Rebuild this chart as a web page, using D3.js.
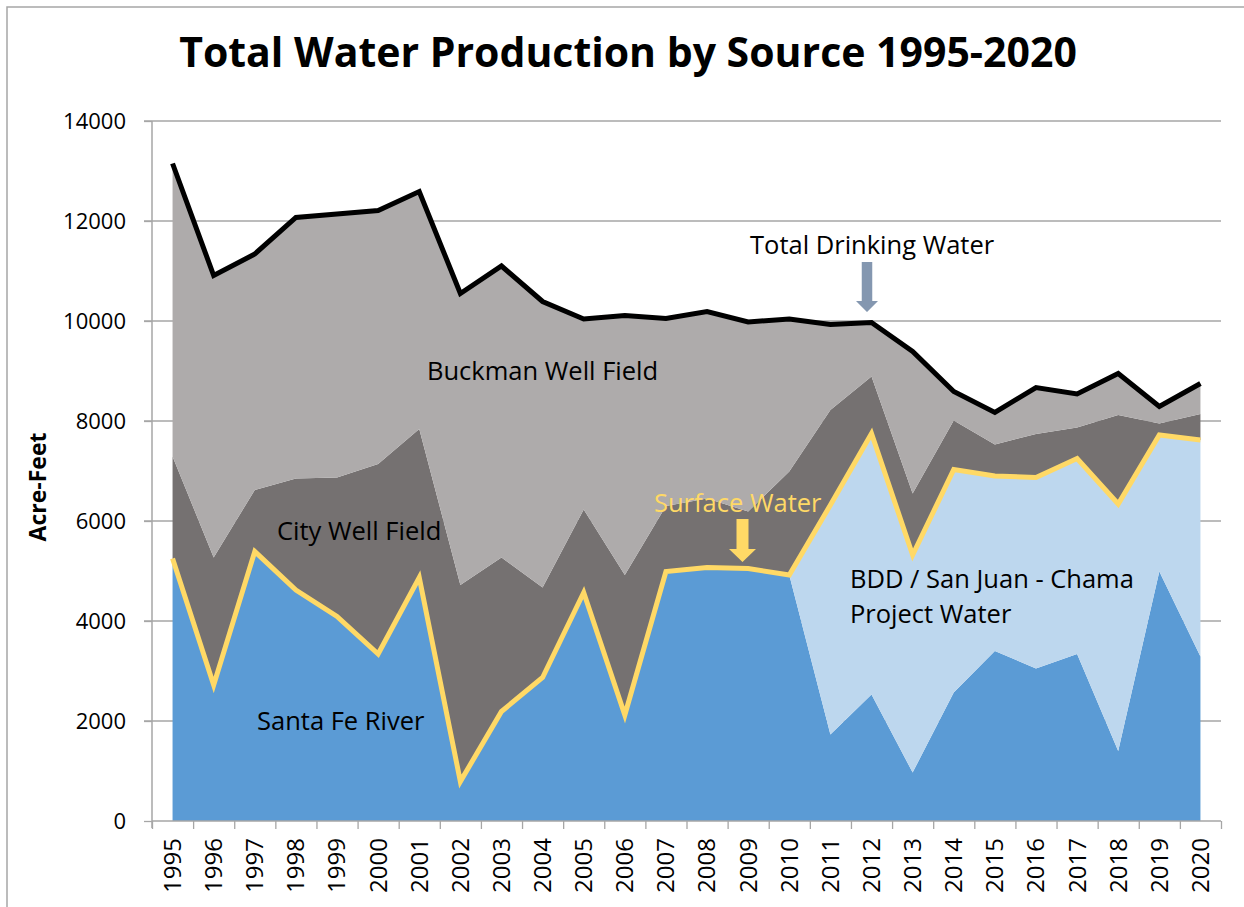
<!DOCTYPE html>
<html>
<head>
<meta charset="utf-8">
<script src="https://cdn.jsdelivr.net/npm/d3@7"></script>
<style>
  body { margin: 0; background: #fff; }
  text { font-family: "Open Sans", "Noto Sans", sans-serif; }
</style>
</head>
<body>
<div id="chart"></div>
<script>
// chart data (acre-feet)
const years = [1995,1996,1997,1998,1999,2000,2001,2002,2003,2004,2005,2006,2007,
               2008,2009,2010,2011,2012,2013,2014,2015,2016,2017,2018,2019,2020];
const santaFe = [5250,2720,5390,4620,4090,3340,4870,790,2190,2870,4570,2120,4990,
                 5070,5050,4920,1730,2530,970,2570,3400,3050,3340,1400,4990,3290];
const bdd = [0,0,0,0,0,0,0,0,0,0,0,0,0,0,0,0,4590,5220,4350,4460,3500,3820,3910,4940,2730,4330];
const cityWell = [2040,2550,1230,2230,2780,3800,2970,3930,3080,1800,1660,2800,1310,
                  1380,1140,2070,1900,1140,1230,980,630,870,620,1780,230,520];
const buckman = [5860,5640,4720,5220,5270,5070,4750,5830,5830,5720,3810,5190,3750,
                 3740,3790,3050,1710,1080,2840,580,640,930,670,830,340,610];
const yTicks = [0,2000,4000,6000,8000,10000,12000,14000];

const width = 1244, height = 907;
const margin = { top: 121, right: 23, bottom: 86, left: 152 };

const rows = years.map((y, i) => ({
  year: y, santaFe: santaFe[i], bdd: bdd[i], city: cityWell[i], buckman: buckman[i]
}));

const svg = d3.select("#chart").append("svg")
  .attr("width", width).attr("height", height);

// outer chart border
svg.append("rect")
  .attr("x", 7).attr("y", 7).attr("width", width + 20).attr("height", height + 20)
  .attr("fill", "none").attr("stroke", "#a6a6a6").attr("stroke-width", 1.5);

const x = d3.scaleBand().domain(years)
  .range([margin.left, width - margin.right]);
const cx = d => x(d) + x.bandwidth() / 2;
const y = d3.scaleLinear().domain([0, 14000])
  .range([height - margin.bottom, margin.top]);

// gridlines
svg.append("g").selectAll("line").data(yTicks.slice(1)).join("line")
  .attr("x1", margin.left - 8).attr("x2", width - margin.right)
  .attr("y1", d => y(d)).attr("y2", d => y(d))
  .attr("stroke", "#a6a6a6").attr("stroke-width", 1.3);

// stacked areas
const keys = ["santaFe", "bdd", "city", "buckman"];
const colors = { santaFe: "#5b9bd5", bdd: "#bdd7ee", city: "#757171", buckman: "#aeabab" };
const series = d3.stack().keys(keys)(rows);

const area = d3.area()
  .x(d => cx(d.data.year))
  .y0(d => y(d[0]))
  .y1(d => y(d[1]));

svg.append("g").selectAll("path").data(series).join("path")
  .attr("fill", d => colors[d.key])
  .attr("d", area);

// axes
const yAxis = d3.axisLeft(y).tickValues(yTicks).tickSize(8).tickPadding(18)
  .tickFormat(d3.format("d"));
const gy = svg.append("g")
  .attr("transform", `translate(${margin.left},0)`)
  .call(yAxis);
gy.select(".domain").remove();
gy.selectAll(".tick line").attr("stroke", "#a6a6a6").attr("stroke-width", 1.3);
gy.selectAll(".tick text").attr("font-size", 22).attr("fill", "#000");
svg.append("line")
  .attr("x1", margin.left).attr("x2", margin.left)
  .attr("y1", margin.top).attr("y2", height - margin.bottom + 7)
  .attr("stroke", "#a6a6a6").attr("stroke-width", 1.5);

// x axis: ticks at band edges, labels centred in bands
const edge = d3.scaleLinear().domain([0, years.length])
  .range([margin.left, width - margin.right]);
const gxTicks = svg.append("g")
  .attr("transform", `translate(0,${height - margin.bottom})`)
  .call(d3.axisBottom(edge).tickValues(d3.range(years.length + 1))
        .tickSize(8).tickFormat(""));
gxTicks.select(".domain").remove();
gxTicks.selectAll(".tick line").attr("stroke", "#a6a6a6").attr("stroke-width", 1.3);
svg.append("line")
  .attr("x1", margin.left).attr("x2", width - margin.right)
  .attr("y1", y(0)).attr("y2", y(0))
  .attr("stroke", "#a6a6a6").attr("stroke-width", 1.5);

const gx = svg.append("g")
  .attr("transform", `translate(0,${height - margin.bottom})`)
  .call(d3.axisBottom(x).tickSize(0).tickFormat(d3.format("d")));
gx.select(".domain").remove();
gx.selectAll(".tick text")
  .attr("font-size", 24).attr("fill", "#000")
  .attr("transform", "rotate(-90)")
  .attr("text-anchor", "end")
  .attr("dx", "-17px").attr("dy", "0.35em")
  .attr("x", 0).attr("y", 0);

// surface water and total lines
const surface = rows.map(d => ({ year: d.year, v: d.santaFe + d.bdd }));
const total = rows.map(d => ({ year: d.year, v: d.santaFe + d.bdd + d.city + d.buckman }));
const line = d3.line().x(d => cx(d.year)).y(d => y(d.v));

svg.append("path").datum(surface)
  .attr("fill", "none").attr("stroke", "#ffd966").attr("stroke-width", 5)
  .attr("d", line);
svg.append("path").datum(total)
  .attr("fill", "none").attr("stroke", "#000").attr("stroke-width", 5)
  .attr("d", line);

// title
svg.append("text")
  .attr("x", 628).attr("y", 67).attr("text-anchor", "middle")
  .attr("font-size", 41).attr("font-weight", "bold")
  .text("Total Water Production by Source 1995-2020");

// y label
svg.append("text")
  .attr("transform", "translate(46,487) rotate(-90)")
  .attr("text-anchor", "middle").attr("font-size", 23).attr("font-weight", "bold")
  .text("Acre-Feet");

// annotations
const notes = [
  { t: "Buckman Well Field", x: 427, y: 380, c: "#000" },
  { t: "City Well Field", x: 277, y: 540, c: "#000" },
  { t: "Santa Fe River", x: 257, y: 730, c: "#000" },
  { t: "Surface Water", x: 654, y: 512, c: "#ffd966" },
  { t: "Total Drinking Water", x: 750, y: 254, c: "#000" },
  { t: "BDD / San Juan - Chama", x: 850, y: 588, c: "#000" },
  { t: "Project Water", x: 850, y: 623, c: "#000" }
];
svg.append("g").selectAll("text").data(notes).join("text")
  .attr("x", d => d.x).attr("y", d => d.y)
  .attr("font-size", 25.5).attr("fill", d => d.c)
  .text(d => d.t);

// arrows
function arrow(xc, top, headTop, tip, shaftW, headW, fill) {
  const p = d3.path();
  p.moveTo(xc - shaftW / 2, top);
  p.lineTo(xc + shaftW / 2, top);
  p.lineTo(xc + shaftW / 2, headTop);
  p.lineTo(xc + headW / 2, headTop);
  p.lineTo(xc, tip);
  p.lineTo(xc - headW / 2, headTop);
  p.lineTo(xc - shaftW / 2, headTop);
  p.closePath();
  svg.append("path").attr("d", p.toString()).attr("fill", fill);
}
arrow(867, 262, 301, 312, 10.5, 22, "#8497b0");
arrow(742.5, 519, 549, 562, 12, 27, "#ffd966");
</script>
</body>
</html>
